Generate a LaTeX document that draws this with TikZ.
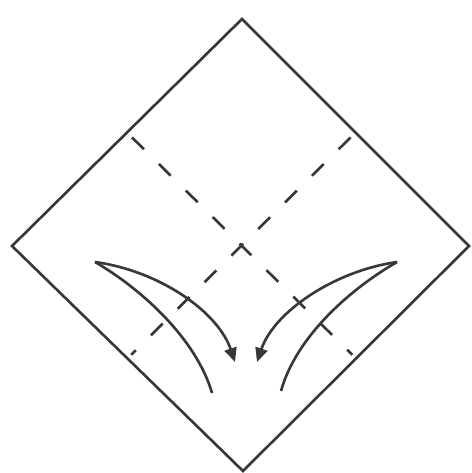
\documentclass[tikz,border=0pt]{standalone}
\usepackage{xcolor}
\usepackage{tikz}
\usetikzlibrary{arrows.meta,calc}

\definecolor{inkgray}{RGB}{55,55,60}
\tikzset{
  edge/.style={draw=inkgray, line width=1.5pt, line join=miter},
  crease/.style={draw=inkgray, line width=1.5pt, dash pattern=on 9.5pt off 12pt, shorten <=4pt, shorten >=3pt},
  foldarrow/.style={draw=inkgray, line width=1.5pt, -{Triangle[length=8pt,width=7pt]}},
  foldtail/.style={draw=inkgray, line width=1.5pt}
}

\begin{document}
\begin{tikzpicture}[x=0.02cm,y=-0.02cm]
\useasboundingbox (0,0) rectangle (472,473);
% square sheet turned on its corner
\coordinate (top) at (242,19);
\coordinate (left) at (12,246);
\coordinate (right) at (469,246);
\coordinate (bottom) at (243,471);
\draw[edge] (top) -- (right) -- (bottom) -- (left) -- cycle;
% midline creases
\draw[crease] ($(top)!0.5!(left)$) -- ($(right)!0.5!(bottom)$);
\draw[crease] ($(top)!0.5!(right)$) -- ($(left)!0.5!(bottom)$);
% left flap
\coordinate (ltip) at (95,262);
\draw[foldarrow] (ltip) .. controls (160,271) and (218,312) .. (235,362);
\draw[foldtail] (ltip) .. controls (140,288) and (196,338) .. (212,393);
% right flap
\coordinate (rtip) at (397,262);
\draw[foldarrow] (rtip) .. controls (334,271) and (274,312) .. (257,362);
\draw[foldtail] (rtip) .. controls (350,289) and (296,337) .. (281,391);
\end{tikzpicture}
\end{document}
